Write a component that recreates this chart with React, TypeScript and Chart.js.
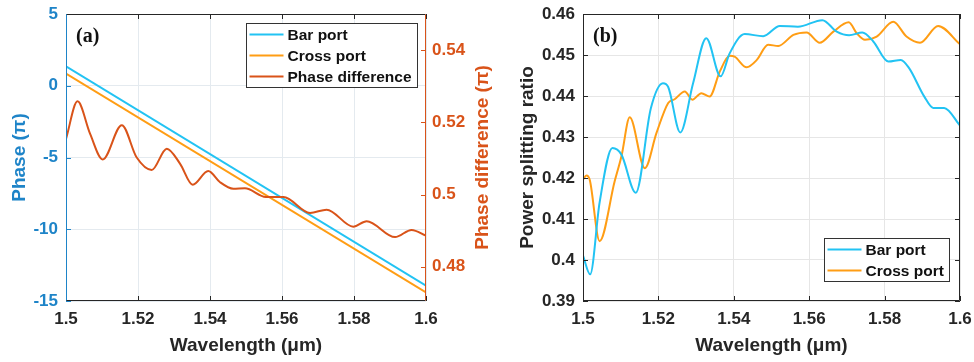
import React, { useEffect, useRef } from 'react';
import Chart from 'chart.js/auto';

// ---------- data ----------
const xTicks = [1.5, 1.52, 1.54, 1.56, 1.58, 1.6];
const phaseTicks = [-15, -10, -5, 0, 5];
const diffTicks = [0.48, 0.5, 0.52, 0.54];
const ratioTicks = [0.39, 0.4, 0.41, 0.42, 0.43, 0.44, 0.45, 0.46];

const phaseWl = [1.5, 1.6];
const barPhase = [1.35, -13.93];
const crossPhase = [0.84, -14.4];

const diffWl = [1.5, 1.5032, 1.5067, 1.5102, 1.5155, 1.5196, 1.5238, 1.528, 1.5317, 1.5352, 1.5395, 1.5428, 1.5465, 1.5497, 1.5555, 1.5604, 1.5678, 1.5724, 1.5798, 1.5835, 1.5914, 1.596, 1.6];
const phaseDiff = [0.5154, 0.5258, 0.5168, 0.5097, 0.5192, 0.5103, 0.5068, 0.5127, 0.5085, 0.5027, 0.5065, 0.5034, 0.5016, 0.5017, 0.4993, 0.4993, 0.4949, 0.4958, 0.4911, 0.4926, 0.4882, 0.4902, 0.4886];

const barRatioWl = [1.5, 1.5019, 1.5044, 1.5078, 1.5102, 1.514, 1.518, 1.5212, 1.5226, 1.5258, 1.5292, 1.5327, 1.5365, 1.5389, 1.5429, 1.5478, 1.5522, 1.557, 1.5635, 1.5673, 1.5706, 1.5741, 1.577, 1.581, 1.5843, 1.5865, 1.5905, 1.5929, 1.5958, 1.6];
const barRatio = [0.4011, 0.3965, 0.414, 0.4273, 0.4257, 0.4164, 0.437, 0.4431, 0.4422, 0.4311, 0.4431, 0.4541, 0.4448, 0.4504, 0.4551, 0.4546, 0.4571, 0.4569, 0.4585, 0.4557, 0.4548, 0.4555, 0.4533, 0.4484, 0.4488, 0.4468, 0.4399, 0.4371, 0.4371, 0.4328];

const crossRatioWl = [1.5, 1.5009, 1.5018, 1.5044, 1.5084, 1.5102, 1.5124, 1.5164, 1.5195, 1.5226, 1.5243, 1.527, 1.529, 1.5314, 1.5336, 1.5363, 1.5389, 1.5402, 1.5434, 1.5461, 1.5491, 1.5518, 1.5558, 1.5593, 1.5628, 1.5664, 1.5705, 1.5726, 1.5748, 1.5779, 1.5823, 1.5858, 1.5894, 1.5942, 1.6];
const crossRatio = [0.4196, 0.4206, 0.4195, 0.4046, 0.4192, 0.4253, 0.4348, 0.4224, 0.431, 0.4383, 0.4392, 0.4411, 0.4391, 0.4407, 0.4399, 0.446, 0.4498, 0.4496, 0.447, 0.4488, 0.4525, 0.4522, 0.4549, 0.4555, 0.453, 0.4557, 0.458, 0.4553, 0.4537, 0.4545, 0.4581, 0.4545, 0.453, 0.4571, 0.4526];

// ---------- styles ----------
const FONT = '"Liberation Sans", Arial, sans-serif';
const SERIF = '"Liberation Serif", "Times New Roman", serif';
const DARK = '#262626';
const BLUE = '#1E84C8';
const RED = '#D95319';
const CYAN = '#22C3F3';
const ORANGE = '#FF9D14';

const pts = (xs: number[], ys: number[]) => xs.map((x, i) => ({ x, y: ys[i] }));
const fmt = (v: number) => String(+Number(v).toFixed(3));
const setTicks = (vals: number[]) => (s: any) => {
  s.ticks = vals.map((v) => ({ value: v }));
};

type LegendItem = { label: string; color: string };
type FrameOpts = {
  leftColor: string;
  rightColor: string;
  xId: string;
  leftId: string;
  rightId: string;
  rightTitle?: { text: string; color: string; x: number };
  panel: string;
  legend: { items: LegendItem[]; right: number; top?: number; bottom?: number; width: number; rowH: number; firstRow: number };
};

function framePlugin(o: FrameOpts) {
  return {
    id: 'matlabFrame',
    afterDraw(chart: any) {
      const ctx = chart.ctx;
      const ca = chart.chartArea;
      const TL = 5;
      ctx.save();
      // ticks
      const xs = chart.scales[o.xId];
      ctx.lineWidth = 1;
      ctx.strokeStyle = DARK;
      xs.ticks.forEach((t: any) => {
        const px = Math.round(xs.getPixelForValue(t.value)) + 0.5;
        ctx.beginPath();
        ctx.moveTo(px, ca.bottom);
        ctx.lineTo(px, ca.bottom - TL);
        ctx.moveTo(px, ca.top);
        ctx.lineTo(px, ca.top + TL);
        ctx.stroke();
      });
      const ls = chart.scales[o.leftId];
      ctx.strokeStyle = o.leftColor;
      ls.ticks.forEach((t: any) => {
        const py = Math.round(ls.getPixelForValue(t.value)) + 0.5;
        ctx.beginPath();
        ctx.moveTo(ca.left, py);
        ctx.lineTo(ca.left + TL, py);
        ctx.stroke();
      });
      const rs = chart.scales[o.rightId];
      ctx.strokeStyle = o.rightColor;
      rs.ticks.forEach((t: any) => {
        const py = Math.round(rs.getPixelForValue(t.value)) + 0.5;
        ctx.beginPath();
        ctx.moveTo(ca.right, py);
        ctx.lineTo(ca.right - TL, py);
        ctx.stroke();
      });
      // box
      const L = Math.round(ca.left) + 0.5;
      const R = Math.round(ca.right) - 0.5;
      const T = Math.round(ca.top) + 0.5;
      const B = Math.round(ca.bottom) - 0.5;
      ctx.strokeStyle = DARK;
      ctx.beginPath();
      ctx.moveTo(L, T);
      ctx.lineTo(R, T);
      ctx.moveTo(L, B);
      ctx.lineTo(R, B);
      ctx.stroke();
      ctx.strokeStyle = o.leftColor;
      ctx.beginPath();
      ctx.moveTo(L, T);
      ctx.lineTo(L, B);
      ctx.stroke();
      ctx.strokeStyle = o.rightColor;
      ctx.beginPath();
      ctx.moveTo(R, T);
      ctx.lineTo(R, B);
      ctx.stroke();

      // panel label
      ctx.fillStyle = '#111';
      ctx.font = `bold 20px ${SERIF}`;
      ctx.textAlign = 'left';
      ctx.textBaseline = 'middle';
      ctx.fillText(o.panel, ca.left + 10, ca.top + 23);

      // right title (reads bottom to top)
      if (o.rightTitle) {
        ctx.save();
        ctx.translate(o.rightTitle.x, (ca.top + ca.bottom) / 2);
        ctx.rotate(-Math.PI / 2);
        ctx.fillStyle = o.rightTitle.color;
        ctx.font = `bold 19px ${FONT}`;
        ctx.textAlign = 'center';
        ctx.textBaseline = 'middle';
        ctx.fillText(o.rightTitle.text, 0, 0);
        ctx.restore();
      }

      // legend
      const lg = o.legend;
      const h = lg.rowH * (lg.items.length - 1) + lg.firstRow * 2;
      const bx = Math.round(ca.right - lg.right - lg.width) + 0.5;
      const by = lg.top !== undefined ? Math.round(ca.top + lg.top) + 0.5 : Math.round(ca.bottom - lg.bottom! - h) + 0.5;
      ctx.fillStyle = '#fff';
      ctx.fillRect(bx, by, lg.width, h);
      ctx.strokeStyle = '#333';
      ctx.lineWidth = 1;
      ctx.strokeRect(bx, by, lg.width, h);
      ctx.font = `bold 15.5px ${FONT}`;
      ctx.textAlign = 'left';
      ctx.textBaseline = 'middle';
      lg.items.forEach((it, i) => {
        const y = by + lg.firstRow + i * lg.rowH;
        ctx.strokeStyle = it.color;
        ctx.lineWidth = 2;
        ctx.beginPath();
        ctx.moveTo(bx + 3, y);
        ctx.lineTo(bx + 37, y);
        ctx.stroke();
        ctx.fillStyle = '#111';
        ctx.fillText(it.label, bx + 41, y + 1);
      });
      ctx.restore();
    },
  };
}

const tickFont = { family: FONT, size: 17, weight: 'bold' as const };
const titleFont = { family: FONT, size: 19, weight: 'bold' as const };

function xAxis(gridColor: string) {
  return {
    type: 'linear' as const,
    min: 1.5,
    max: 1.6,
    afterBuildTicks: setTicks(xTicks),
    ticks: { font: tickFont, color: DARK, padding: 8, maxRotation: 0, autoSkip: false, callback: (v: any) => fmt(v) },
    grid: { color: gridColor, drawTicks: false },
    border: { display: false },
    title: { display: true, text: 'Wavelength (μm)', font: titleFont, color: DARK, padding: { top: 0, bottom: 4.6 } },
    afterFit: (s: any) => {
      s.height = 61;
      s.paddingLeft = 0;
      s.paddingRight = 0;
    },
  };
}

function PhaseChart() {
  const ref = useRef<HTMLCanvasElement>(null);
  useEffect(() => {
    const chart = new Chart(ref.current!, {
      type: 'line',
      data: {
        datasets: [
          { label: 'Phase difference', data: pts(diffWl, phaseDiff), yAxisID: 'y2', borderColor: RED, borderWidth: 2, pointRadius: 0, cubicInterpolationMode: 'monotone', order: 0 },
          { label: 'Bar port', data: pts(phaseWl, barPhase), yAxisID: 'y', borderColor: CYAN, borderWidth: 2, pointRadius: 0, order: 1 },
          { label: 'Cross port', data: pts(phaseWl, crossPhase), yAxisID: 'y', borderColor: ORANGE, borderWidth: 2, pointRadius: 0, order: 2 },
        ],
      },
      options: {
        animation: false,
        responsive: false,
        layout: { padding: { top: 14, left: 0, right: 0, bottom: 0 } },
        plugins: { legend: { display: false }, tooltip: { enabled: false } },
        scales: {
          x: xAxis('#e4eaef'),
          y: {
            type: 'linear',
            position: 'left',
            min: -15,
            max: 5,
            afterBuildTicks: setTicks(phaseTicks),
            ticks: { font: tickFont, color: BLUE, padding: 8, callback: (v: any) => fmt(v) },
            grid: { color: '#e4eaef', drawTicks: false },
            border: { display: false },
            title: { display: true, text: 'Phase (π)', font: titleFont, color: BLUE, padding: { top: 8.6, bottom: 0 } },
            afterFit: (s: any) => {
              s.width = 66;
              s.paddingTop = 0;
              s.paddingBottom = 0;
            },
          },
          y2: {
            type: 'linear',
            position: 'right',
            min: 0.4705,
            max: 0.55,
            afterBuildTicks: setTicks(diffTicks),
            ticks: { font: tickFont, color: RED, padding: 6, callback: (v: any) => fmt(v) },
            grid: { display: false, drawTicks: false },
            border: { display: false },
            title: { display: false },
            afterFit: (s: any) => {
              s.width = 74;
              s.paddingTop = 0;
              s.paddingBottom = 0;
            },
          },
        },
      },
      plugins: [
        framePlugin({
          leftColor: BLUE,
          rightColor: RED,
          xId: 'x',
          leftId: 'y',
          rightId: 'y2',
          rightTitle: { text: 'Phase difference (π)', color: RED, x: 483 },
          panel: '(a)',
          legend: {
            items: [
              { label: 'Bar port', color: CYAN },
              { label: 'Cross port', color: ORANGE },
              { label: 'Phase difference', color: RED },
            ],
            right: 9,
            top: 9,
            width: 171,
            rowH: 21,
            firstRow: 11,
          },
        }) as any,
      ],
    } as any);
    return () => chart.destroy();
  }, []);
  return <canvas ref={ref} width={500} height={362} style={{ position: 'absolute', left: 0, top: 0, width: 500, height: 362 }} />;
}

function RatioChart() {
  const ref = useRef<HTMLCanvasElement>(null);
  useEffect(() => {
    const chart = new Chart(ref.current!, {
      type: 'line',
      data: {
        datasets: [
          { label: 'Bar port', data: pts(barRatioWl, barRatio), borderColor: CYAN, borderWidth: 2, pointRadius: 0, cubicInterpolationMode: 'monotone' },
          { label: 'Cross port', data: pts(crossRatioWl, crossRatio), borderColor: ORANGE, borderWidth: 2, pointRadius: 0, cubicInterpolationMode: 'monotone' },
        ],
      },
      options: {
        animation: false,
        responsive: false,
        layout: { padding: { top: 14, left: 0, right: 14, bottom: 0 } },
        plugins: { legend: { display: false }, tooltip: { enabled: false } },
        scales: {
          x: xAxis('#e6e6e6'),
          y: {
            type: 'linear',
            position: 'left',
            min: 0.39,
            max: 0.46,
            afterBuildTicks: setTicks(ratioTicks),
            ticks: { font: tickFont, color: DARK, padding: 8, callback: (v: any) => fmt(v) },
            grid: { color: '#e6e6e6', drawTicks: false },
            border: { display: false },
            title: { display: true, text: 'Power splitting ratio', font: titleFont, color: DARK, padding: { top: 29.6, bottom: 0 } },
            afterFit: (s: any) => {
              s.width = 96;
              s.paddingTop = 0;
              s.paddingBottom = 0;
            },
          },
        },
      },
      plugins: [
        framePlugin({
          leftColor: DARK,
          rightColor: DARK,
          xId: 'x',
          leftId: 'y',
          rightId: 'y',
          panel: '(b)',
          legend: {
            items: [
              { label: 'Bar port', color: CYAN },
              { label: 'Cross port', color: ORANGE },
            ],
            right: 11,
            bottom: 20,
            width: 125,
            rowH: 21,
            firstRow: 11,
          },
        }) as any,
      ],
    } as any);
    return () => chart.destroy();
  }, []);
  return <canvas ref={ref} width={487} height={362} style={{ position: 'absolute', left: 487, top: 0, width: 487, height: 362 }} />;
}

export default function App() {
  return (
    <div style={{ position: 'absolute', left: 0, top: 0, width: 974, height: 362, background: '#fff', overflow: 'hidden' }}>
      <RatioChart />
      <PhaseChart />
    </div>
  );
}
